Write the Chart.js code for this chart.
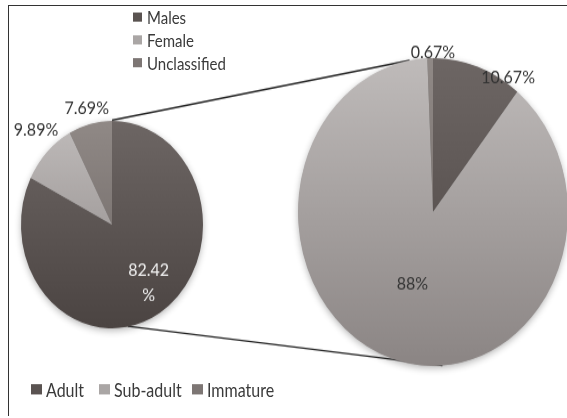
<!DOCTYPE html>
<html>
<head>
<meta charset="utf-8">
<script src="https://cdn.jsdelivr.net/npm/chart.js@4.4.1/dist/chart.umd.min.js"></script>
<style>
  html, body { margin: 0; padding: 0; background: #fff; }
  #page { position: relative; width: 567px; height: 418px; overflow: hidden; background: #fff; }
  #frame { position: absolute; left: 8px; top: 5px; width: 620px; height: 410px;
           border-left: 1.5px solid #333; border-top: 1.5px solid #333; }
  /* the whole drawing is laid out in round pies, then stretched vertically */
  #stage { position: absolute; left: 0; top: 0; width: 567px; height: 367px;
           transform: scaleY(1.14); transform-origin: 0 0; }
  #stage canvas { position: absolute; }
  .legend { position: absolute; font-family: Lato, "Open Sans", sans-serif; font-size: 15px; color: #3a3a3a; }
  .legend .item { display: flex; align-items: center; white-space: nowrap; }
  .legend .sw { display: inline-block; width: 9px; height: 8px; margin-right: 5px; }
  #legendTop { left: 133px; top: 5px; }
  #legendTop .item { height: 20.2px; }
  #legendBottom { left: 0; top: 331px; width: 300px; height: 20px; font-size: 16px; }
  #legendBottom .item { position: absolute; top: 0; height: 20px; }
  #legendBottom .item:nth-child(1) { left: 31px; }
  #legendBottom .item:nth-child(2) { left: 99px; }
  #legendBottom .item:nth-child(3) { left: 192px; }
  #legendBottom .sw { width: 11px; height: 9px; margin-right: 4px; }
</style>
</head>
<body>
<div id="page">
  <div id="frame"></div>
  <div id="stage">
    <canvas id="links" width="567" height="367" style="left:0;top:0"></canvas>
    <canvas id="mainPie" width="260" height="260" style="left:-18px;top:66.5px"></canvas>
    <canvas id="detailPie" width="320" height="320" style="left:273px;top:26px"></canvas>
    <div class="legend" id="legendTop"></div>
    <div class="legend" id="legendBottom"></div>
  </div>
</div>
<script>
// Population split, and the breakdown of the expanded group
const mainLabels = ['Males', 'Female', 'Unclassified'];
const mainValues = [82.42, 9.89, 7.69];
const detailLabels = ['Adult', 'Sub-adult', 'Immature'];
const detailValues = [10.67, 88, 0.67];

// shades: [top of pie, bottom of pie, swatch]
const shades = {
  dark:   ['#6d6664', '#4b4442', '#5a5351'],
  light:  ['#bfbbba', '#8b8584', '#aaa6a5'],
  medium: ['#908986', '#6a6361', '#7d7674']
};
const mainShades = [shades.dark, shades.light, shades.medium];
const detailShades = [shades.dark, shades.light, shades.medium];

// label placement: distance from centre (fraction of radius) and angular nudge (deg)
const mainLabelPlace = [{ f: 0.69, turn: -4 }, { f: 1.236, turn: 3 }, { f: 1.16, turn: 0 }];
const detailLabelPlace = [{ f: 1.04, turn: 13 }, { f: 0.49, turn: 0 }, { f: 1.04, turn: 1.2 }];
const mainLabelText = ['82.42\n%', '9.89%', '7.69%'];
const detailLabelText = ['10.67%', '88%', '0.67%'];
const mainLabelColor = ['#f2f2f2', '#333', '#333'];
const detailLabelColor = ['#333', '#333', '#333'];

function gradientFill(list, radius) {
  return (ctx) => {
    const chart = ctx.chart;
    const area = chart.chartArea;
    const s = list[ctx.dataIndex];
    if (!area) return s[2];
    const cy = (area.top + area.bottom) / 2;
    const g = chart.ctx.createLinearGradient(0, cy - radius, 0, cy + radius);
    g.addColorStop(0, s[0]);
    g.addColorStop(1, s[1]);
    return g;
  };
}

const pieShadow = {
  id: 'pieShadow',
  beforeDatasetsDraw(chart) {
    const arc = chart.getDatasetMeta(0).data[0];
    if (!arc) return;
    const c = chart.ctx;
    c.save();
    c.shadowColor = 'rgba(0,0,0,0.32)';
    c.shadowBlur = 7;
    c.shadowOffsetY = 2;
    c.fillStyle = '#888';
    c.beginPath();
    c.arc(arc.x, arc.y, arc.outerRadius - 0.5, 0, Math.PI * 2);
    c.fill();
    c.restore();
  }
};

const sliceLabels = {
  id: 'sliceLabels',
  afterDatasetsDraw(chart, args, opts) {
    const c = chart.ctx;
    const meta = chart.getDatasetMeta(0);
    c.save();
    c.font = '16px Lato, "Open Sans", sans-serif';
    c.textAlign = 'center';
    c.textBaseline = 'middle';
    meta.data.forEach((arc, i) => {
      const p = opts.place[i];
      const mid = (arc.startAngle + arc.endAngle) / 2 + p.turn * Math.PI / 180;
      const x = arc.x + Math.cos(mid) * arc.outerRadius * p.f;
      const y = arc.y + Math.sin(mid) * arc.outerRadius * p.f;
      const lines = opts.text[i].split('\n');
      c.fillStyle = opts.color[i];
      lines.forEach((ln, k) => {
        c.fillText(ln, x, y + (k - (lines.length - 1) / 2) * 22);
      });
    });
    c.restore();
  }
};

function makePie(id, labels, values, shadeList, radius, place, text, color) {
  return new Chart(document.getElementById(id), {
    type: 'pie',
    data: {
      labels: labels,
      datasets: [{
        data: values,
        backgroundColor: gradientFill(shadeList, radius),
        borderWidth: 0
      }]
    },
    options: {
      responsive: false,
      animation: false,
      events: [],
      radius: radius,
      layout: { padding: 0 },
      plugins: {
        legend: { display: false },
        tooltip: { enabled: false },
        sliceLabels: { place: place, text: text, color: color }
      }
    },
    plugins: [pieShadow, sliceLabels]
  });
}

const mainChart = makePie('mainPie', mainLabels, mainValues, mainShades, 91,
  mainLabelPlace, mainLabelText, mainLabelColor);
const detailChart = makePie('detailPie', detailLabels, detailValues, detailShades, 135,
  detailLabelPlace, detailLabelText, detailLabelColor);

// legends
function buildLegend(el, labels, shadeList) {
  labels.forEach((name, i) => {
    const item = document.createElement('div');
    item.className = 'item';
    const sw = document.createElement('span');
    sw.className = 'sw';
    sw.style.background = shadeList[i][2];
    const tx = document.createElement('span');
    tx.textContent = name;
    item.appendChild(sw);
    item.appendChild(tx);
    el.appendChild(item);
  });
}
buildLegend(document.getElementById('legendTop'), mainLabels, mainShades);
buildLegend(document.getElementById('legendBottom'), detailLabels, detailShades);

// connector lines between the two pies
function rimPoint(chart, deg) {
  const arc = chart.getDatasetMeta(0).data[0];
  const cv = chart.canvas;
  const ox = parseFloat(cv.style.left), oy = parseFloat(cv.style.top);
  const a = (deg - 90) * Math.PI / 180;
  return [ox + arc.x + Math.cos(a) * arc.outerRadius, oy + arc.y + Math.sin(a) * arc.outerRadius];
}
const lc = document.getElementById('links').getContext('2d');
lc.strokeStyle = '#222';
lc.lineWidth = 1.4;
[[0, 350], [170, 176]].forEach(([fromDeg, toDeg]) => {
  const a = rimPoint(mainChart, fromDeg);
  const b = rimPoint(detailChart, toDeg);
  lc.beginPath();
  lc.moveTo(a[0], a[1]);
  lc.lineTo(b[0], b[1]);
  lc.stroke();
});
</script>
</body>
</html>
